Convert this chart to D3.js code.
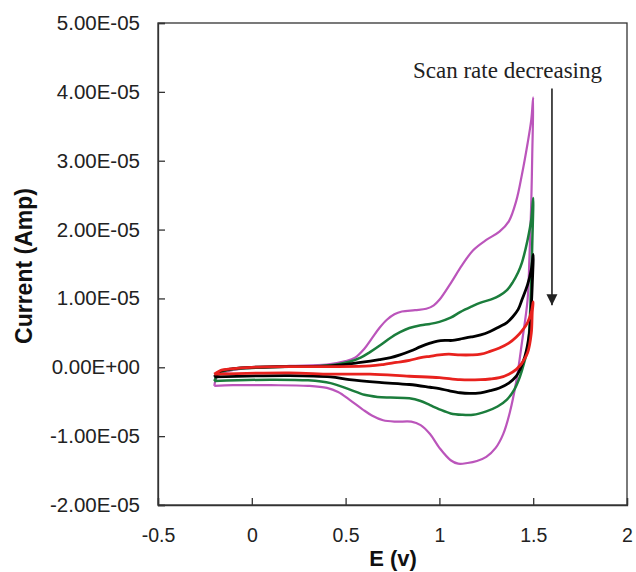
<!DOCTYPE html>
<meta charset="utf-8">
<style>
  body { margin: 0; background: #fff; }
  .tick text { font: 19.5px "Liberation Sans", Arial, sans-serif; fill: #222; }
  .y-axis .tick text { font-size: 20.5px; }
  .title { font: bold 23px "Liberation Sans", Arial, sans-serif; fill: #111; }
  .note { font: 23px "Liberation Serif", "Times New Roman", serif; fill: #222; }
</style>
<svg width="636" height="572"></svg>
<script src="https://d3js.org/d3.v7.min.js"></script>
<script>
  // current values are in units of 1e-5 A, potential in V
  var unit = 1e-5;

  var xTicks = [-0.5, 0, 0.5, 1, 1.5, 2];
  var yTicks = [-2, -1, 0, 1, 2, 3, 4, 5];

  // fastest scan (magenta)
  var magentaFwd = [[-0.2,-0.27],[-0.18,-0.12],[-0.1,-0.04],[0,-0.01],[0.2,0.02],[0.4,0.04],[0.5,0.09],
    [0.55,0.14],[0.6,0.27],[0.64,0.42],[0.68,0.57],[0.72,0.69],[0.76,0.77],[0.8,0.81],[0.87,0.83],
    [0.93,0.85],[0.97,0.9],[1.0,0.98],[1.06,1.22],[1.12,1.48],[1.18,1.7],[1.25,1.85],[1.32,1.97],
    [1.37,2.12],[1.41,2.42],[1.44,2.8],[1.47,3.25],[1.49,3.6],[1.5,3.92]];
  var magentaRev = [[1.495,3.1],[1.49,2.43],[1.48,1.6],[1.47,0.98],[1.44,0.36],[1.41,-0.2],
    [1.375,-0.66],[1.34,-0.97],[1.3,-1.17],[1.25,-1.3],[1.2,-1.36],[1.15,-1.39],[1.1,-1.4],
    [1.06,-1.35],[1.0,-1.17],[0.95,-0.97],[0.9,-0.84],[0.85,-0.79],[0.77,-0.79],[0.7,-0.77],
    [0.64,-0.7],[0.59,-0.61],[0.52,-0.47],[0.46,-0.36],[0.4,-0.3],[0.3,-0.27],[0.1,-0.26],
    [-0.1,-0.26],[-0.2,-0.27]];

  var greenFwd = [[-0.2,-0.2],[-0.17,-0.08],[-0.1,-0.03],[0,-0.01],[0.2,0.01],[0.42,0.03],[0.52,0.08],
    [0.58,0.14],[0.63,0.22],[0.69,0.33],[0.74,0.43],[0.79,0.51],[0.84,0.57],[0.9,0.61],[0.95,0.63],
    [1.0,0.66],[1.06,0.72],[1.11,0.8],[1.17,0.88],[1.22,0.94],[1.28,0.99],[1.32,1.04],[1.36,1.12],
    [1.39,1.23],[1.42,1.38],[1.44,1.52],[1.47,1.85],[1.49,2.15],[1.5,2.46]];
  var greenRev = [[1.495,1.8],[1.49,1.3],[1.48,0.59],[1.47,0.26],[1.45,0.05],[1.43,-0.13],
    [1.4,-0.32],[1.36,-0.47],[1.31,-0.57],[1.25,-0.64],[1.18,-0.69],[1.12,-0.69],[1.06,-0.67],
    [1.0,-0.61],[0.95,-0.55],[0.9,-0.49],[0.84,-0.45],[0.74,-0.44],[0.67,-0.43],[0.6,-0.4],
    [0.52,-0.32],[0.42,-0.23],[0.3,-0.19],[0.1,-0.18],[-0.2,-0.2]];

  var blackFwd = [[-0.2,-0.14],[-0.17,-0.06],[-0.1,-0.02],[0,0],[0.2,0.01],[0.42,0.02],[0.58,0.07],
    [0.68,0.11],[0.74,0.14],[0.79,0.18],[0.85,0.24],[0.9,0.3],[0.95,0.35],[0.99,0.38],[1.03,0.39],
    [1.07,0.39],[1.11,0.41],[1.17,0.44],[1.22,0.47],[1.27,0.52],[1.32,0.59],[1.36,0.65],[1.39,0.73],
    [1.42,0.84],[1.44,0.98],[1.47,1.2],[1.49,1.42],[1.5,1.64]];
  var blackRev = [[1.495,1.2],[1.49,0.9],[1.48,0.5],[1.455,0.15],[1.43,-0.03],[1.41,-0.13],
    [1.37,-0.23],[1.32,-0.3],[1.27,-0.34],[1.22,-0.37],[1.16,-0.38],[1.11,-0.37],[1.05,-0.34],
    [1.0,-0.31],[0.95,-0.29],[0.84,-0.25],[0.68,-0.22],[0.52,-0.18],[0.42,-0.14],[0.2,-0.12],
    [-0.2,-0.14]];

  // slowest scan (red)
  var redFwd = [[-0.2,-0.1],[-0.17,-0.05],[-0.1,-0.02],[0,0],[0.2,0.01],[0.42,0.01],[0.63,0.02],
    [0.7,0.04],[0.77,0.07],[0.84,0.1],[0.9,0.14],[0.95,0.16],[1.0,0.18],[1.05,0.19],[1.11,0.18],
    [1.17,0.18],[1.22,0.19],[1.27,0.23],[1.32,0.28],[1.37,0.35],[1.41,0.44],[1.44,0.53],
    [1.47,0.65],[1.49,0.8],[1.5,0.95]];
  var redRev = [[1.495,0.8],[1.49,0.5],[1.47,0.21],[1.44,0.06],[1.41,-0.03],[1.37,-0.1],
    [1.32,-0.15],[1.27,-0.17],[1.22,-0.18],[1.11,-0.18],[1.0,-0.15],[0.84,-0.13],[0.63,-0.1],
    [0.42,-0.1],[0.2,-0.08],[-0.2,-0.1]];

  var scans = [
    { fwd: magentaFwd, rev: magentaRev, color: "#bb55bb", w: 2.2 },
    { fwd: greenFwd, rev: greenRev, color: "#1b7d3c", w: 2.5 },
    { fwd: blackFwd, rev: blackRev, color: "#000", w: 2.8 },
    { fwd: redFwd, rev: redRev, color: "#e8221e", w: 2.8 }
  ];

  var svg = d3.select("svg"),
    margin = { top: 23, right: 9, bottom: 67, left: 158 },
    width = 636 - margin.left - margin.right,
    height = 572 - margin.top - margin.bottom;

  var x = d3.scaleLinear().domain([-0.5, 2]).range([margin.left, margin.left + width]);
  var y = d3.scaleLinear().domain([-2 * unit, 5 * unit]).range([margin.top + height, margin.top]);

  function sci(d) {
    if (d === 0) return "0.00E+00";
    var s = d.toExponential(2).toUpperCase().split("E");
    var e = +s[1];
    return s[0] + "E" + (e < 0 ? "-" : "+") + (Math.abs(e) < 10 ? "0" : "") + Math.abs(e);
  }

  // frame
  svg.append("rect")
    .attr("x", margin.left).attr("y", margin.top)
    .attr("width", width).attr("height", height)
    .attr("fill", "none").attr("stroke", "#333").attr("stroke-width", 1.3);

  var gx = svg.append("g")
    .attr("transform", "translate(0," + (margin.top + height) + ")")
    .call(d3.axisBottom(x).tickValues(xTicks).tickSize(-7).tickPadding(23)
      .tickFormat(function (d) { return d; }));
  var gy = svg.append("g")
    .attr("class", "y-axis")
    .attr("transform", "translate(" + margin.left + ",0)")
    .call(d3.axisLeft(y).tickValues(yTicks.map(function (v) { return v * unit; }))
      .tickSize(-7).tickPadding(18).tickFormat(sci));
  [gx, gy].forEach(function (g) {
    g.select(".domain").attr("stroke", "#333").attr("stroke-width", 1.3);
    g.selectAll(".tick line").attr("stroke", "#333").attr("stroke-width", 1.3);
  });

  var line = d3.line()
    .x(function (d) { return x(d[0]); })
    .y(function (d) { return y(d[1] * unit); })
    .curve(d3.curveCatmullRom.alpha(0.5));

  svg.selectAll(".scan")
    .data(scans)
    .enter().append("path")
    .attr("class", "scan")
    .attr("d", function (d) { return line(d.fwd.concat(d.rev)); })
    .attr("fill", "none")
    .attr("stroke", function (d) { return d.color; })
    .attr("stroke-width", function (d) { return d.w; })
    .attr("stroke-linejoin", "round");

  // annotation + arrow
  svg.append("defs").append("marker")
    .attr("id", "head")
    .attr("viewBox", "0 0 10 10")
    .attr("refX", 10).attr("refY", 5)
    .attr("markerWidth", 11).attr("markerHeight", 12)
    .attr("markerUnits", "userSpaceOnUse")
    .attr("orient", "auto")
    .append("path").attr("d", "M0,0L10,5L0,10Z").attr("fill", "#222");

  svg.append("text").attr("class", "note")
    .attr("x", 413).attr("y", 78)
    .text("Scan rate decreasing");

  svg.append("line")
    .attr("x1", x(1.6)).attr("x2", x(1.6))
    .attr("y1", y(4.05 * unit)).attr("y2", y(0.9 * unit))
    .attr("stroke", "#222").attr("stroke-width", 1.6)
    .attr("marker-end", "url(#head)");

  svg.append("text").attr("class", "title")
    .attr("transform", "translate(32," + (margin.top + height / 2 + 2) + ") rotate(-90)")
    .attr("text-anchor", "middle")
    .text("Current (Amp)");

  svg.append("text").attr("class", "title")
    .attr("x", 393).attr("y", 566)
    .attr("text-anchor", "middle")
    .style("font-size", "22px")
    .text("E (v)");
</script>
